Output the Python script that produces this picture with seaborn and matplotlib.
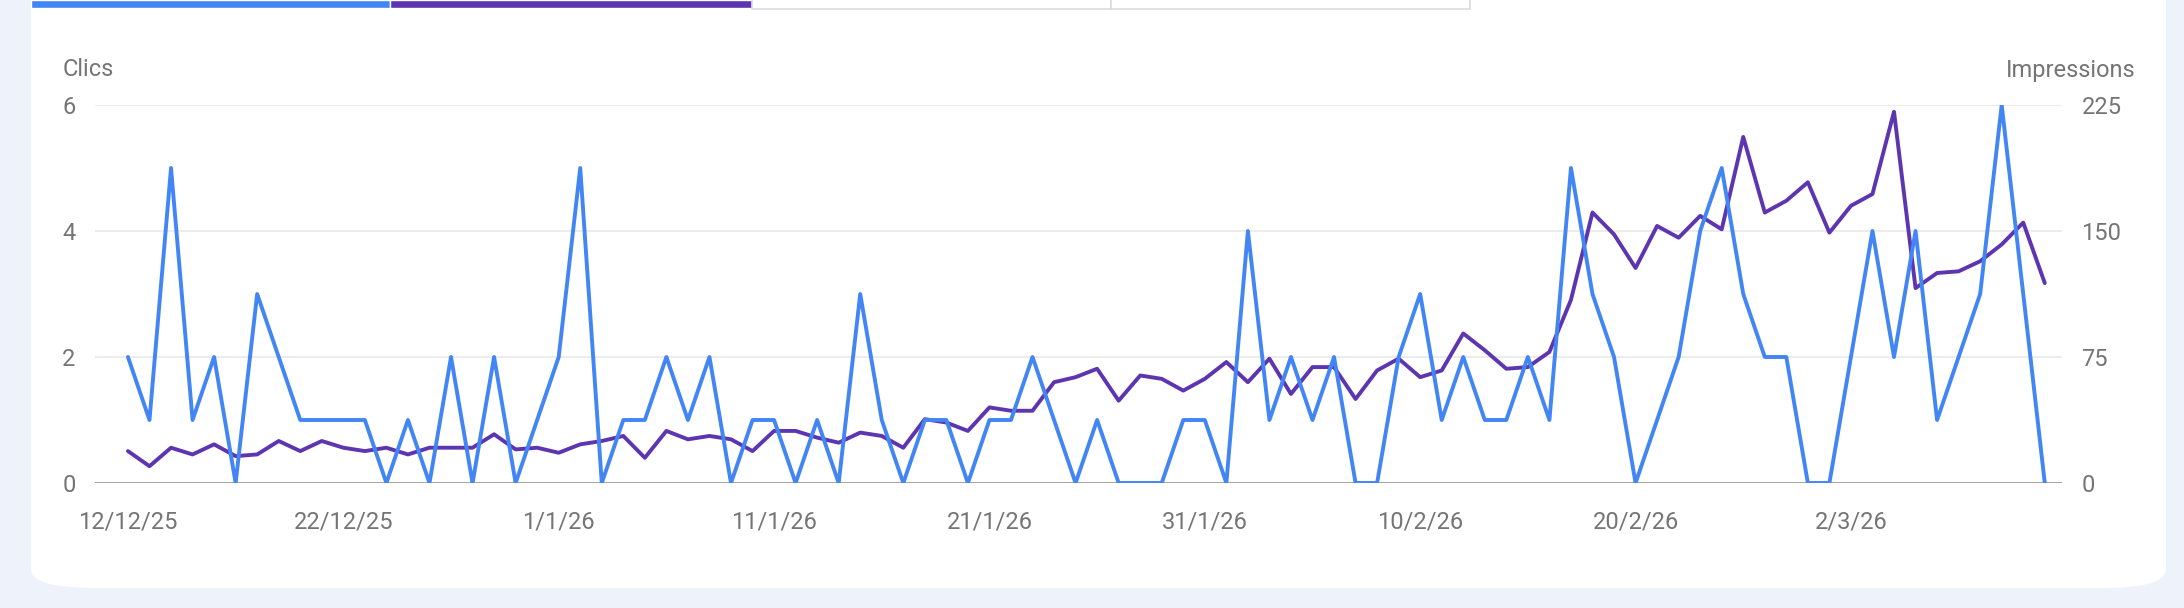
import matplotlib
matplotlib.use('Agg')
import matplotlib.pyplot as plt
from matplotlib.patches import FancyBboxPatch, Rectangle
import numpy as np
import pandas as pd
import seaborn as sns

sns.set_style("white")
plt.rcParams['font.family'] = ['Roboto', 'DejaVu Sans']

# daily values from 12/12/25 to 11/3/26
clics = [2, 1, 5, 1, 2, 0, 3, 2, 1, 1, 1, 1, 0, 1, 0, 2, 0, 2, 0, 1, 2, 5, 0,
         1, 1, 2, 1, 2, 0, 1, 1, 0, 1, 0, 3, 1, 0, 1, 1, 0, 1, 1, 2, 1, 0, 1, 0,
         0, 0, 1, 1, 0, 4, 1, 2, 1, 2, 0, 0, 2, 3, 1, 2, 1, 1, 2, 1, 5, 3, 2,
         0, 1, 2, 4, 5, 3, 2, 2, 0, 0, 2, 4, 2, 4, 1, 2, 3, 6, 3, 0]
impressions = [19, 10, 21, 17, 23, 16, 17, 25, 19, 25, 21, 19, 21, 17, 21, 21, 21, 29, 20, 21, 18, 23, 25,
               28, 15, 31, 26, 28, 26, 19, 31, 31, 27, 24, 30, 28, 21, 38, 36, 31, 45, 43, 43, 60, 63, 68, 49,
               64, 62, 55, 62, 72, 60, 74, 53, 69, 69, 50, 67, 74, 63, 67, 89, 79, 68, 69, 78, 109, 161, 148,
               128, 153, 146, 159, 151, 206, 161, 168, 179, 149, 165, 172, 221, 116, 125, 126, 132, 142, 155, 119]
tick_pos = [0, 10, 20, 30, 40, 50, 60, 70, 80]
tick_labels = ["12/12/25", "22/12/25", "1/1/26", "11/1/26", "21/1/26", "31/1/26", "10/2/26", "20/2/26", "2/3/26"]

df = pd.DataFrame({"day": np.arange(len(clics)), "clics": clics, "impressions": impressions})

W, H = 2184, 608
fig = plt.figure(figsize=(W / 100, H / 100), dpi=100)
fig.patch.set_facecolor("#eef2fb")

# white card + cropped metric tabs on top
fig.patches.append(FancyBboxPatch((31 / W, 20 / H), (2166 - 31) / W, 700 / H, boxstyle="round,pad=0,rounding_size=0.03",
                                  transform=fig.transFigure, facecolor="white", edgecolor="none", zorder=-2))
fig.patches.append(Rectangle((31 / W, (H - 8) / H), 359 / W, 8 / H, transform=fig.transFigure, facecolor="#4285f4", zorder=-1))
fig.patches.append(Rectangle((390 / W, (H - 8) / H), 362 / W, 8 / H, transform=fig.transFigure, facecolor="#5e35b1", zorder=-1))
for x0 in [752, 1111]:
    fig.patches.append(Rectangle((x0 / W, (H - 9) / H), 359 / W, 12 / H, transform=fig.transFigure,
                                 facecolor="white", edgecolor="#dadce0", linewidth=1.2, zorder=-1))

ax = fig.add_axes([95 / W, (H - 483) / H, (2062 - 95) / W, 378 / H])
ax2 = ax.twinx()
ax2.patch.set_visible(False)

sns.lineplot(data=df, x="day", y="impressions", ax=ax2, color="#5e35b1", linewidth=2.8)
sns.lineplot(data=df, x="day", y="clics", ax=ax, color="#4285f4", linewidth=2.8)
ax.set_zorder(2)
ax2.set_zorder(1)
ax.patch.set_visible(False)

ax.set_xlim(-1.53, 89.8)
ax.set_ylim(0, 6)
ax2.set_ylim(0, 225)
ax.set_yticks([0, 2, 4, 6])
ax2.set_yticks([0, 75, 150, 225])
ax.set_xticks(tick_pos)
ax.set_xticklabels(tick_labels)
ax2.grid(axis="y", color="#ebebeb", linewidth=1.3)
ax2.set_axisbelow(True)
ax.grid(False)
ax.set_xlabel("")
ax.set_ylabel("")
ax2.set_ylabel("")
for a in (ax, ax2):
    for s in a.spines.values():
        s.set_visible(False)
    a.tick_params(length=0, labelsize=17, labelcolor="#757575")
ax.tick_params(axis="x", pad=20)
ax.tick_params(axis="y", pad=14)
ax2.tick_params(axis="y", pad=14)
ax2.axhline(0, color="#9e9e9e", linewidth=2, zorder=1)

fig.text(63 / W, (H - 70) / H, "Clics", fontsize=17, color="#757575", va="center", ha="left")
fig.text(2135 / W, (H - 70) / H, "Impressions", fontsize=17, color="#757575", va="center", ha="right")

fig.savefig("out.png", dpi=100, facecolor=fig.get_facecolor())
